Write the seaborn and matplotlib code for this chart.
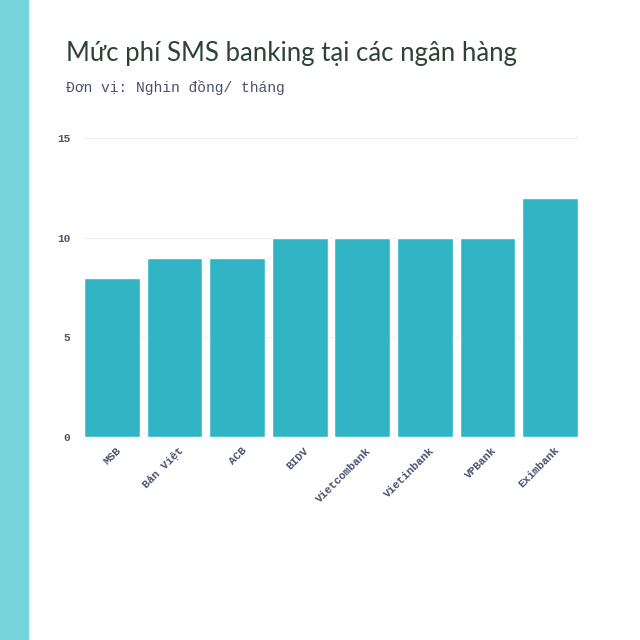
import numpy as np
import pandas as pd
import matplotlib
matplotlib.use("Agg")
import matplotlib.pyplot as plt
import seaborn as sns
from matplotlib.patches import Rectangle
from matplotlib.transforms import ScaledTranslation

# data
banks = ["MSB", "Bản Việt", "ACB", "BIDV", "Vietcombank", "Vietinbank", "VPBank", "Eximbank"]
fees = [8, 9, 9, 10, 10, 10, 10, 12]
yticks = [0, 5, 10, 15]

df = pd.DataFrame({"bank": banks, "fee": fees})

sns.set_theme(style="white")
plt.rcParams["font.family"] = ["Lato", "DejaVu Sans"]

fig = plt.figure(figsize=(6.4, 6.4), dpi=100)
fig.patch.set_facecolor("white")

# left strip
fig.patches.append(Rectangle((0, 0), 28 / 640, 1, transform=fig.transFigure,
                             color="#76D4DD", zorder=0))

ax = fig.add_axes([84 / 640, 1 - 437 / 640, (578 - 84) / 640, (437 - 138) / 640])
bw = 0.89
sns.barplot(data=df, x="bank", y="fee", color="#31B5C4", width=bw,
            saturation=1, ax=ax, zorder=3)
ax.set_xlim(-bw / 2, len(banks) - 1 + bw / 2)
ax.set_ylim(0, 15)
ax.set_yticks(yticks)
ax.grid(axis="y", color="#eeeeee", linewidth=0.8, zorder=0)
for s in ax.spines.values():
    s.set_visible(False)
ax.set_xlabel("")
ax.set_ylabel("")

mono = ["Liberation Mono", "DejaVu Sans Mono"]
ax.tick_params(axis="y", length=0, pad=10)
ax.tick_params(axis="x", length=0, pad=6)
for lab in ax.get_yticklabels():
    lab.set_family(mono)
    lab.set_fontsize(8)
    lab.set_fontweight("bold")
    lab.set_color("#4a5270")
ax.set_xticks(range(len(banks)))
ax.set_xticklabels(banks, rotation=45, ha="right", rotation_mode="anchor",
                   family=mono, fontsize=8, fontweight="bold", color="#4a5270")
shift = ScaledTranslation(4 / 100, 0, fig.dpi_scale_trans)
for lab in ax.get_xticklabels():
    lab.set_transform(lab.get_transform() + shift)

fig.text(66 / 640, 1 - 53 / 640, "Mức phí SMS banking tại các ngân hàng",
         fontsize=18.5, color="#2c4433", va="center", ha="left")
fig.text(66 / 640, 1 - 88 / 640, "Đơn vị: Nghin đồng/ tháng",
         fontsize=10.5, color="#4a5270", va="center", ha="left", family=mono)

fig.savefig("out.png", dpi=100, facecolor="white")
